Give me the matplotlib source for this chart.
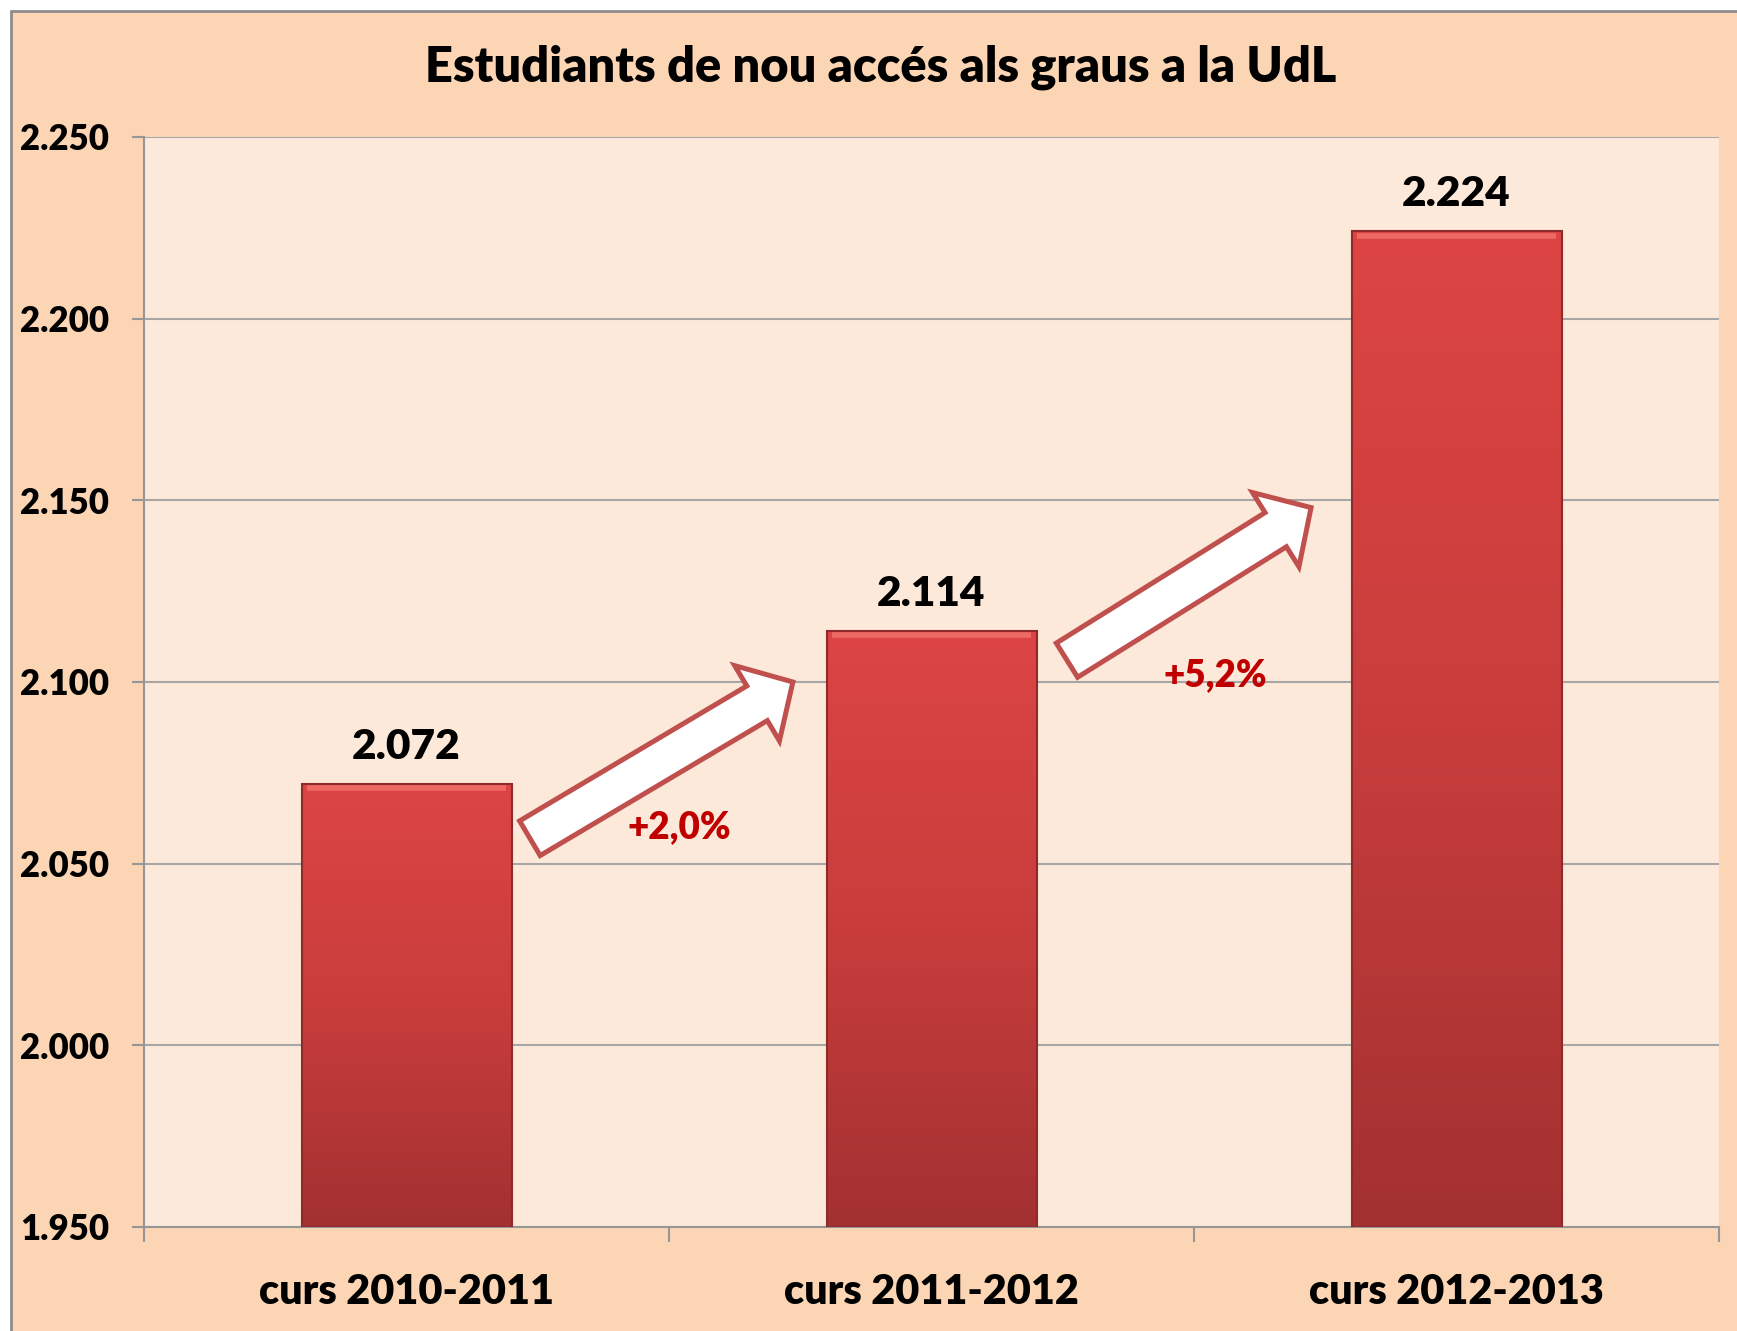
import numpy as np
import matplotlib
matplotlib.use("Agg")
import matplotlib.pyplot as plt
from matplotlib.patches import Rectangle, FancyArrowPatch
from matplotlib.colors import LinearSegmentedColormap
from matplotlib.ticker import FuncFormatter, MultipleLocator


# data
courses = ["curs 2010-2011", "curs 2011-2012", "curs 2012-2013"]
students = [2072, 2114, 2224]
y_ticks = [1950, 2000, 2050, 2100, 2150, 2200, 2250]
title = "Estudiants de nou accés als graus a la UdL"

# arrow annotations (tail, tip) in data units, one per step
arrow_tails = [(0.235, 2057), (1.258, 2106)]
arrow_tips = [(0.736, 2100), (1.723, 2148)]
pct_pos = [(0.52, 2060), (1.54, 2102)]

WEIGHT = 'heavy'


def thousands(v, pos=None):
    return f"{int(round(v)):,}".replace(",", ".")


def main():
    plt.rcParams['font.family'] = ['Lato', 'DejaVu Sans']
    plt.rcParams['font.weight'] = WEIGHT

    fig = plt.figure(figsize=(17.37, 13.31), dpi=100, facecolor='white')

    # peach chart area with grey frame
    fig.patches.append(Rectangle((11 / 1737, -0.1), 1.2, 1.1 - 11 / 1331,
                                 transform=fig.transFigure, facecolor='#FCD5B4',
                                 edgecolor='#8C8C8C', lw=2, zorder=-5))

    ax = fig.add_axes([144 / 1737, 1 - 1227 / 1331, (1719 - 144) / 1737, (1227 - 137) / 1331])
    ax.set_zorder(2)
    ax.set_facecolor('#FDE9D9')

    x = np.arange(len(courses))
    width = 0.4
    ymin, ymax = y_ticks[0], y_ticks[-1]

    cmap = LinearSegmentedColormap.from_list('bar', ['#A33131', '#C83D3C', '#DC4543'])
    grad = np.linspace(0, 1, 256).reshape(-1, 1)
    for xi, v in zip(x, students):
        ax.imshow(grad, extent=[xi - width / 2, xi + width / 2, ymin, v], origin='lower',
                  aspect='auto', cmap=cmap, zorder=2, interpolation='bicubic')
        ax.add_patch(Rectangle((xi - width / 2, ymin), width, v - ymin, fill=False,
                               edgecolor='#8E2A2A', lw=1.5, zorder=3))
        ax.hlines(v - 1.2, xi - width / 2 + 0.01, xi + width / 2 - 0.01,
                  color='#EE6864', lw=4, zorder=3)
        ax.annotate(thousands(v), (xi, v), xytext=(0, 13), textcoords='offset points',
                    ha='center', va='bottom', fontsize=30.5, fontweight=WEIGHT, color='black')

    ax.set_xlim(-0.5, len(courses) - 0.5)
    ax.set_ylim(ymin, ymax)

    # gridlines and axes
    ax.yaxis.set_major_locator(MultipleLocator(50))
    ax.yaxis.set_major_formatter(FuncFormatter(thousands))
    ax.grid(axis='y', color='#A6A6A6', lw=1.5, zorder=1)
    ax.set_axisbelow(True)
    for s in ['top', 'right']:
        ax.spines[s].set_visible(False)
    for s in ['left', 'bottom']:
        ax.spines[s].set_color('#969696')
        ax.spines[s].set_linewidth(1.5)

    ax.set_xticks(x)
    ax.set_xticklabels(courses)
    ax.set_xticks(np.arange(len(courses) + 1) - 0.5, minor=True)
    ax.tick_params(axis='x', which='major', length=0, pad=33, labelsize=29.8)
    ax.tick_params(axis='x', which='minor', length=11, width=1.5, color='#969696')
    ax.tick_params(axis='y', length=9, width=1.5, color='#969696', pad=16, labelsize=25)
    for lab in ax.get_xticklabels() + ax.get_yticklabels():
        lab.set_fontweight(WEIGHT)

    # growth arrows and percentages
    for i, (tail, tip) in enumerate(zip(arrow_tails, arrow_tips)):
        arr = FancyArrowPatch(tail, tip, arrowstyle='simple,head_length=3.0,head_width=6.3,tail_width=2.9',
                              mutation_scale=10, shrinkA=0, shrinkB=0, facecolor='white',
                              edgecolor='#C0504D', lw=3.6, zorder=4, joinstyle='miter')
        ax.add_patch(arr)
        pct = (students[i + 1] - students[i]) / students[i] * 100
        ax.text(pct_pos[i][0], pct_pos[i][1], f"+{pct:.1f}%".replace(".", ","),
                ha='center', va='center', fontsize=26.5, fontweight=WEIGHT, color='#C00000', zorder=5)

    fig.text(0.507, 1 - 67 / 1331, title, ha='center', va='center', fontsize=35.1,
             fontweight=WEIGHT, color='black')

    fig.savefig('out.png', dpi=100, facecolor=fig.get_facecolor())


if __name__ == '__main__':
    main()
